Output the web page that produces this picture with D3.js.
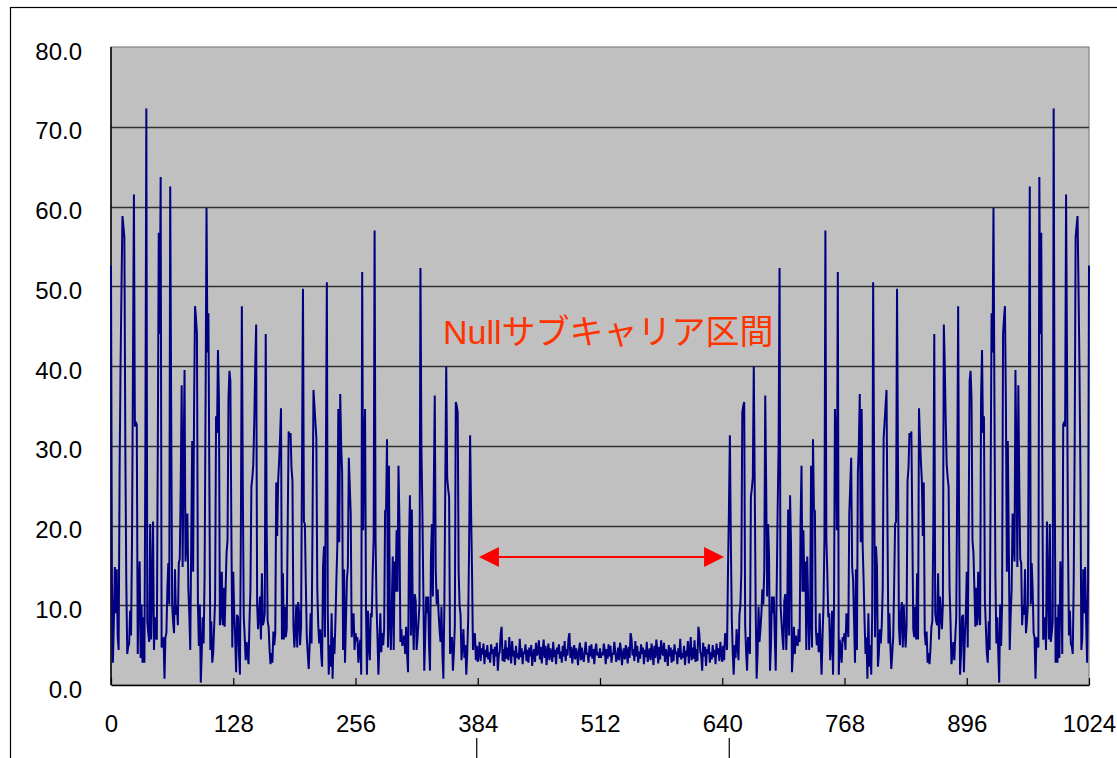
<!DOCTYPE html>
<html>
<head>
<meta charset="utf-8">
<script src="https://cdn.jsdelivr.net/npm/d3@7"></script>
<style>
  html, body { margin: 0; padding: 0; background: #ffffff; }
  svg { display: block; }
</style>
</head>
<body>
<svg id="chart" width="1117" height="758"></svg>
<script>
// ---------- DATA ----------
const yTickValues = [0, 10, 20, 30, 40, 50, 60, 70, 80];
const yTickLabels = ["0.0", "10.0", "20.0", "30.0", "40.0", "50.0", "60.0", "70.0", "80.0"];
const xTickValues = [0, 128, 256, 384, 512, 640, 768, 896, 1024];
const xTickLabels = ["0", "128", "256", "384", "512", "640", "768", "896", "1024"];
const annotationText = "Nullサブキャリア区間";
const nullStart = 380;
const nullEnd = 644;
const markerTicks = [384, 640];

// magnitude per subcarrier index 0..1024
const magnitude = [
52.6,12.7,2.8,8.0,14.8,9.0,14.5,6.0,4.4,26.7,
40.0,50.0,58.8,57.5,56.2,30.0,13.2,3.9,4.8,5.2,
9.3,6.2,18.0,40.0,61.5,32.4,33.0,32.6,3.9,12.0,
15.5,3.4,10.1,2.8,8.5,2.8,30.0,72.3,8.0,6.5,
5.4,20.2,5.7,12.0,20.5,4.4,8.5,6.0,5.7,30.0,
56.7,44.0,63.7,4.7,5.5,6.0,0.8,6.0,6.5,12.0,
15.3,10.1,62.5,35.0,10.1,8.0,6.5,14.5,8.8,10.0,
7.5,15.3,15.8,25.0,37.6,14.8,28.0,39.5,15.5,18.0,
21.5,12.0,8.8,4.4,18.0,30.6,14.2,35.0,47.5,46.0,
44.0,10.1,4.9,10.1,0.3,4.0,8.5,5.2,13.7,35.0,
59.8,41.7,46.6,25.0,4.4,8.0,2.8,4.0,7.3,10.6,
33.7,31.6,42.0,36.0,7.5,9.0,14.2,7.5,12.2,7.3,
12.0,16.6,18.1,36.0,39.4,38.1,20.0,4.7,14.2,9.0,
6.0,1.6,8.8,8.5,4.0,1.3,20.0,47.5,25.0,8.5,
6.0,3.1,5.4,4.0,2.6,8.0,12.0,24.9,26.0,27.7,
33.0,40.0,45.2,10.1,7.0,9.0,11.1,5.7,14.0,7.5,
8.0,9.0,44.0,20.0,8.0,7.3,4.5,2.6,4.0,2.8,
6.7,5.0,6.5,25.4,18.7,25.6,28.0,31.0,34.7,5.7,
14.0,5.7,9.8,6.0,7.0,20.0,31.8,31.0,31.6,27.2,
25.6,7.5,4.7,7.0,10.1,4.7,10.4,9.0,5.0,7.3,
28.0,49.7,20.5,20.2,12.7,6.0,4.0,2.0,5.0,9.0,
5.2,20.0,37.0,35.0,33.0,31.0,12.0,7.5,5.2,7.0,
4.0,2.3,14.8,17.4,6.0,28.0,50.5,9.0,1.3,5.0,
2.3,9.0,0.8,6.0,3.9,8.0,13.2,17.6,34.6,17.9,
36.5,30.0,26.7,4.4,14.5,2.8,8.0,13.2,14.8,28.5,
25.0,21.5,6.0,7.5,9.0,4.4,6.5,5.5,6.0,2.8,
4.5,5.7,1.3,51.8,19.4,30.0,34.6,9.6,1.3,9.3,
5.0,3.1,9.0,8.5,14.0,18.4,57.0,18.4,10.0,6.0,
1.3,5.0,9.0,4.1,6.5,5.0,7.0,21.8,22.0,30.8,
4.7,27.5,8.0,4.4,10.0,16.1,4.4,15.5,11.7,19.4,
11.7,27.5,20.5,5.4,7.0,4.9,5.5,6.2,3.9,7.3,
4.0,1.6,17.6,23.8,6.2,22.0,8.0,4.4,11.4,10.6,
4.4,6.0,8.0,10.1,52.3,30.0,22.0,12.0,1.8,6.0,
11.1,9.0,11.1,5.0,1.8,16.1,20.2,11.1,25.0,36.3,
14.5,10.1,12.0,9.0,7.0,5.4,9.8,4.0,0.8,9.6,
25.0,39.9,26.0,24.6,23.6,3.9,5.0,6.0,1.8,4.0,
7.5,35.5,35.0,34.2,14.2,10.0,8.8,3.1,5.0,7.0,
3.4,5.0,1.3,4.0,8.3,17.9,31.3,22.0,14.2,4.4,
6.0,6.5,3.1,4.9,2.9,4.0,5.4,3.0,4.6,3.8,
5.2,2.6,4.4,3.5,5.0,3.2,4.1,2.8,5.1,3.9,
4.5,2.4,4.8,3.6,5.3,1.8,3.7,4.2,6.4,7.3,
3.0,4.5,2.9,5.6,3.3,4.7,3.1,6.0,4.1,2.7,
5.5,3.6,4.3,2.5,4.9,3.4,4.0,3.2,5.8,3.5,
4.6,2.6,4.2,3.9,5.1,3.0,4.4,2.8,4.7,3.6,
5.0,2.4,3.8,4.5,2.9,5.3,3.7,4.1,5.6,3.2,
4.8,2.7,4.3,5.7,3.4,4.9,2.5,4.0,5.2,3.1,
4.6,3.8,2.9,5.4,3.5,4.4,2.6,4.7,3.9,5.1,
3.3,4.2,2.8,4.9,3.6,5.5,3.0,4.5,3.7,5.8,
6.5,3.4,4.8,2.7,4.1,5.0,3.2,4.6,3.9,2.5,
4.4,5.3,3.1,4.7,3.5,2.9,4.2,5.4,3.8,4.0,
2.8,4.9,3.6,5.1,3.3,4.5,2.6,4.3,5.2,3.7,
4.1,3.4,4.6,
3.4,4.1,
3.7,5.2,4.3,2.6,4.5,3.3,5.1,3.6,4.9,2.8,
4.0,3.8,5.4,4.2,2.9,3.5,4.7,3.1,5.3,4.4,
2.5,3.9,4.6,3.2,5.0,4.1,2.7,4.8,3.4,6.5,
5.8,3.7,4.5,3.0,5.5,3.6,4.9,2.8,4.2,3.3,
5.1,3.9,4.7,2.6,4.4,3.5,5.4,2.9,3.8,4.6,
3.1,5.2,4.0,2.5,4.9,3.4,5.7,4.3,2.7,4.8,
3.2,5.6,4.1,3.7,5.3,2.9,4.5,3.8,2.4,5.0,
3.6,4.7,2.8,4.4,3.0,5.1,3.9,4.2,2.6,4.6,
3.5,5.8,3.2,4.0,3.4,4.9,2.5,4.3,3.6,5.5,
2.7,4.1,6.0,3.1,4.7,3.3,5.6,2.9,4.5,3.0,
7.3,6.4,4.2,3.7,1.8,5.3,3.6,4.8,2.4,4.5,
3.9,5.1,2.8,4.1,3.2,5.0,3.5,4.4,2.6,5.2,
3.8,4.6,3.0,5.4,4.0,2.9,4.9,3.1,6.5,6.0,
4.4,14.2,22.0,31.3,17.9,8.3,4.0,1.3,5.0,3.4,
7.0,5.0,3.1,8.8,10.0,14.2,34.2,35.0,35.5,7.5,
4.0,1.8,6.0,5.0,3.9,23.6,24.6,26.0,39.9,25.0,
9.6,0.8,4.0,9.8,5.4,7.0,9.0,12.0,10.1,14.5,
36.3,25.0,11.1,20.2,16.1,1.8,5.0,11.1,9.0,11.1,
6.0,1.8,12.0,22.0,30.0,52.3,10.1,8.0,6.0,4.4,
10.6,11.4,4.4,8.0,22.0,6.2,23.8,17.6,1.6,4.0,
7.3,3.9,6.2,5.5,4.9,7.0,5.4,20.5,27.5,11.7,
19.4,11.7,15.5,4.4,16.1,10.0,4.4,8.0,27.5,4.7,
30.8,22.0,21.8,7.0,5.0,6.5,4.1,9.0,5.0,1.3,
6.0,10.0,18.4,57.0,18.4,14.0,8.5,9.0,3.1,5.0,
9.3,1.3,9.6,34.6,30.0,19.4,51.8,1.3,5.7,4.5,
2.8,6.0,5.5,6.5,4.4,9.0,7.5,6.0,21.5,25.0,
28.5,14.8,13.2,8.0,2.8,14.5,4.4,26.7,30.0,36.5,
17.9,34.6,17.6,13.2,8.0,3.9,6.0,0.8,9.0,2.3,
5.0,1.3,9.0,50.5,28.0,6.0,17.4,14.8,2.3,4.0,
7.0,5.2,7.5,12.0,31.0,33.0,35.0,37.0,20.0,5.2,
9.0,5.0,2.0,4.0,6.0,12.7,20.2,20.5,49.7,28.0,
7.3,5.0,9.0,10.4,4.7,10.1,7.0,4.7,7.5,25.6,
27.2,31.6,31.0,31.8,20.0,7.0,6.0,9.8,5.7,14.0,
5.7,34.7,31.0,28.0,25.6,18.7,25.4,6.5,5.0,6.7,
2.8,4.0,2.6,4.5,7.3,8.0,20.0,44.0,9.0,8.0,
7.5,14.0,5.7,11.1,9.0,7.0,10.1,45.2,40.0,33.0,
27.7,26.0,24.9,12.0,8.0,2.6,4.0,5.4,3.1,6.0,
8.5,25.0,47.5,20.0,1.3,4.0,8.5,8.8,1.6,6.0,
9.0,14.2,4.7,20.0,38.1,39.4,36.0,18.1,16.6,12.0,
7.3,12.2,7.5,14.2,9.0,7.5,36.0,42.0,31.6,33.7,
10.6,7.3,4.0,2.8,8.0,4.4,25.0,46.6,41.7,59.8,
35.0,13.7,5.2,8.5,4.0,0.3,10.1,4.9,10.1,44.0,
46.0,47.5,35.0,14.2,30.6,18.0,4.4,8.8,12.0,21.5,
18.0,15.5,39.5,28.0,14.8,37.6,25.0,15.8,15.3,7.5,
10.0,8.8,14.5,6.5,8.0,10.1,35.0,62.5,10.1,15.3,
12.0,6.5,6.0,0.8,6.0,5.5,4.7,63.7,44.0,56.7,
30.0,5.7,6.0,8.5,4.4,20.5,12.0,5.7,20.2,5.4,
6.5,8.0,72.3,30.0,2.8,8.5,2.8,10.1,3.4,15.5,
12.0,3.9,32.6,33.0,32.4,61.5,40.0,18.0,6.2,9.3,
5.2,4.8,3.9,13.2,30.0,56.2,57.5,58.8,50.0,40.0,
26.7,4.4,6.0,14.5,9.0,14.8,8.0,2.8,12.7,52.6
];

// ---------- LAYOUT ----------
const svg = d3.select("#chart");
const plot = { left: 111, right: 1089, top: 47, bottom: 685 };

const x = d3.scaleLinear().domain([0, 1024]).range([plot.left, plot.right]);
const y = d3.scaleLinear().domain([0, 80]).range([plot.bottom, plot.top]);

// outer chart border
svg.append("rect")
  .attr("x", 10.5).attr("y", 7.5)
  .attr("width", 1130).attr("height", 800)
  .attr("fill", "#ffffff")
  .attr("stroke", "#000000").attr("stroke-width", 1.2);

// plot background
svg.append("rect")
  .attr("x", plot.left).attr("y", plot.top)
  .attr("width", plot.right - plot.left).attr("height", plot.bottom - plot.top)
  .attr("fill", "#c0c0c0")
  .attr("stroke", "#808080").attr("stroke-width", 1.2);

// horizontal gridlines
svg.append("g")
  .selectAll("line")
  .data(yTickValues.filter(v => v > 0 && v < 80))
  .join("line")
  .attr("x1", plot.left).attr("x2", plot.right)
  .attr("y1", d => Math.round(y(d)) + 0.5).attr("y2", d => Math.round(y(d)) + 0.5)
  .attr("stroke", "#303030").attr("stroke-width", 1.4);

// y axis (labels only, line drawn separately)
const yAxis = d3.axisLeft(y)
  .tickValues(yTickValues)
  .tickFormat((d, i) => yTickLabels[i])
  .tickSize(0)
  .tickPadding(29);
const gy = svg.append("g")
  .attr("transform", `translate(${plot.left},0)`)
  .call(yAxis);
gy.select(".domain").remove();
gy.selectAll("text")
  .attr("font-family", "'Liberation Sans', Arial, sans-serif")
  .attr("font-size", 24)
  .attr("fill", "#000")
  .attr("dy", "0.5em");

// x axis: ticks point inward
const xAxis = d3.axisBottom(x)
  .tickValues(xTickValues)
  .tickFormat((d, i) => xTickLabels[i])
  .tickSizeInner(-7)
  .tickSizeOuter(0)
  .tickPadding(30);
const gx = svg.append("g")
  .attr("transform", `translate(0,${plot.bottom})`)
  .call(xAxis);
gx.select(".domain").attr("stroke", "#000").attr("stroke-width", 1.5);
gx.selectAll(".tick line").attr("stroke", "#000").attr("stroke-width", 1.2);
gx.selectAll("text")
  .attr("font-family", "'Liberation Sans', Arial, sans-serif")
  .attr("font-size", 24)
  .attr("fill", "#000");

// left axis line
svg.append("line")
  .attr("x1", plot.left).attr("x2", plot.left)
  .attr("y1", plot.top).attr("y2", plot.bottom)
  .attr("stroke", "#000").attr("stroke-width", 1.5);

// data line
const line = d3.line()
  .x((d, i) => x(i))
  .y(d => y(d));
svg.append("path")
  .datum(magnitude)
  .attr("d", line)
  .attr("fill", "none")
  .attr("stroke", "#000080")
  .attr("stroke-width", 2)
  .attr("stroke-linejoin", "miter")
  .attr("stroke-miterlimit", 2);

// marker lines below the 384 / 640 labels
svg.append("g")
  .selectAll("line")
  .data(markerTicks)
  .join("line")
  .attr("x1", (d, i) => x(d) + (i === 1 ? 7 : -1))
  .attr("x2", (d, i) => x(d) + (i === 1 ? 7 : -1))
  .attr("y1", 738).attr("y2", 758)
  .attr("stroke", "#000").attr("stroke-width", 1.2);

// double-headed arrow over the null region
const arrowY = 557;
const ax1 = x(nullStart) + 5, ax2 = x(nullEnd) - 2;
const headL = 20, headH = 10;
svg.append("line")
  .attr("x1", ax1 + headL - 2).attr("x2", ax2 - headL + 2)
  .attr("y1", arrowY).attr("y2", arrowY)
  .attr("stroke", "#ff0000").attr("stroke-width", 2.2);
svg.append("path")
  .attr("d", `M${ax1},${arrowY} L${ax1 + headL},${arrowY - headH} L${ax1 + headL},${arrowY + headH} Z`)
  .attr("fill", "#ff0000");
svg.append("path")
  .attr("d", `M${ax2},${arrowY} L${ax2 - headL},${arrowY - headH} L${ax2 - headL},${arrowY + headH} Z`)
  .attr("fill", "#ff0000");

// annotation text
svg.append("text")
  .attr("x", 443).attr("y", 344)
  .attr("font-family", "'Liberation Sans', 'Noto Sans CJK JP', sans-serif")
  .attr("font-size", 34)
  .attr("fill", "#ff3300")
  .text(annotationText);
</script>
</body>
</html>
